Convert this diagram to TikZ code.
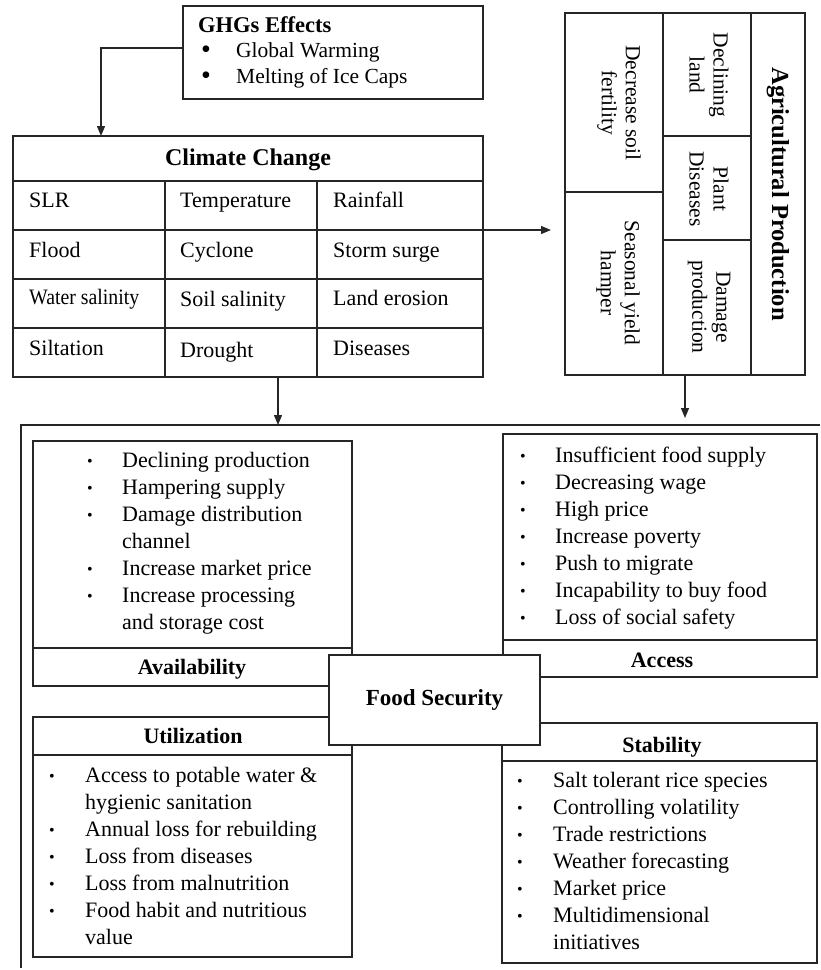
\documentclass[tikz,border=0pt]{standalone}
\usepackage{fontspec}
\setmainfont{Liberation Serif}
\usetikzlibrary{arrows.meta}
\newcommand\bodyfont{\fontsize{22}{27}\selectfont}
\newcommand\sbul{{\fontsize{16}{16}\selectfont\raisebox{0.5pt}{\textbullet}}}
\newcommand\bbul{{\fontsize{28}{28}\selectfont\raisebox{-1pt}{\textbullet}}}
\newcommand\itm[2]{\llap{\makebox[#1][l]{#2}}}
\tikzset{
  box/.style={draw=black!85, line width=1.3pt, inner sep=0pt, outer sep=0pt},
  ln/.style={draw=black!85, line width=1.3pt},
  conn/.style={draw=black!85, line width=1.3pt, -{Triangle[length=10pt,width=8pt]}},
  txt/.style={inner sep=0pt, font=\bodyfont, anchor=base west},
  hdr/.style={inner sep=0pt, font=\bodyfont\bfseries, anchor=base},
  vtxt/.style={inner sep=0pt, font=\fontsize{21.5}{24}\selectfont, rotate=-90, align=center},
}
\begin{document}
\begin{tikzpicture}[x=1pt,y=-1pt]
\useasboundingbox (0,0) rectangle (820,970);

% ---------- GHGs ----------
\node[box, minimum width=300pt, minimum height=93pt] (ghg) at (333,52.5) {};
\node[inner sep=0pt, font=\fontsize{22.5}{27}\selectfont\bfseries, anchor=base west] (ghgt) at (198,32) {GHGs Effects};
\node[txt, font=\fontsize{21.5}{24}\selectfont] (ghg1) at (236,57) {\itm{35pt}{\bbul}Global Warming};
\node[txt, font=\fontsize{21.5}{24}\selectfont] (ghg2) at (236,83) {\itm{35pt}{\bbul}Melting of Ice Caps};

% ---------- Climate change ----------
\node[box, minimum width=470pt, minimum height=45pt] (cc) at (248,158.5) {};
\node[hdr, font=\fontsize{24}{27}\selectfont\bfseries] (cct) at (248,165) {Climate Change};
\node[box, minimum width=470pt, minimum height=196pt] (grid) at (248,279) {};
\draw[ln] (13,230) -- (483,230) (13,279) -- (483,279) (13,328) -- (483,328)
          (165,181) -- (165,377) (317,181) -- (317,377);
\node[txt] (c11) at (29,207) {SLR};
\node[txt] (c12) at (180,207) {Temperature};
\node[txt] (c13) at (333,207) {Rainfall};
\node[txt] (c21) at (29,257) {Flood};
\node[txt] (c22) at (180,257) {Cyclone};
\node[txt] (c23) at (333,257) {Storm surge};
\node[txt] (c31) at (29,304) {\scalebox{0.9}[1]{Water salinity}};
\node[txt] (c32) at (180,306) {Soil salinity};
\node[txt] (c33) at (333,305) {Land erosion};
\node[txt] (c41) at (29,355) {Siltation};
\node[txt] (c42) at (180,357) {Drought};
\node[txt] (c43) at (333,355) {Diseases};

\draw[conn] ([yshift=4.5pt]ghg.west) -| ([xshift=88pt]cc.north west);

% ---------- Agricultural production ----------
\node[box, minimum width=240pt, minimum height=362pt] (agri) at (685,194) {};
\draw[ln] (663,13) -- (663,375) (565,192) -- (663,192)
          (663,136) -- (751,136) (663,240) -- (751,240);
\draw[draw=black!85, line width=2.2pt] (751,13) -- (751,375);
\node[vtxt, font=\fontsize{24.5}{27}\selectfont\bfseries] (agt) at (778,194) {Agricultural Production};
\node[vtxt] (ag1) at (709,75) {Declining\\land};
\node[vtxt] (ag2) at (709,189) {Plant\\Diseases};
\node[vtxt] (ag3) at (709,307) {Damage\\production};
\node[vtxt] (ag4) at (619,103) {Decrease soil\\fertility};
\node[vtxt] (ag5) at (618,283) {Seasonal yield\\hamper};

\draw[conn, shorten >=14pt] ([yshift=49pt]grid.east) -- ([yshift=49pt]grid.east -| agri.west);

% ---------- Food security frame ----------
\node[inner sep=0pt, outer sep=0pt, minimum width=799pt, minimum height=543pt] (frame) at (420.5,696.5) {};
\draw[ln] (frame.south west) -- (frame.north west) -- (frame.north east);

\draw[conn] ([xshift=30pt]grid.south) -- ([xshift=30pt]grid.south |- frame.north);
\draw[conn, shorten >=7pt] (agri.south) -- (agri.south |- frame.north);

% Availability
\node[box, minimum width=319pt, minimum height=245pt] (avbox) at (192.5,563.5) {};
\draw[ln] (33,648) -- (352,648);
\node[hdr] (avh) at (192,674) {Availability};
\foreach \f/\t [count=\i] in {1/Declining production, 1/Hampering supply, 1/Damage distribution,
  0/channel, 1/Increase market price, 1/Increase processing, 0/and storage cost}{
  \node[txt] (av\i) at (122,{440+27*\i}) {\ifnum\f=1 \itm{35pt}{\sbul}\fi\t};
}

% Access
\node[box, minimum width=314pt, minimum height=243pt] (acbox) at (660,555.5) {};
\draw[ln] (503,640) -- (817,640);
\node[hdr] (ach) at (662,667) {Access};
\foreach \t [count=\i] in {Insufficient food supply, Decreasing wage, High price, Increase poverty,
  Push to migrate, Incapability to buy food, Loss of social safety}{
  \node[txt] (ac\i) at (555,{435+27*\i}) {\itm{35pt}{\sbul}\t};
}

% Utilization
\node[box, minimum width=319pt, minimum height=240pt] (utbox) at (192.5,837) {};
\draw[ln] (33,755) -- (352,755);
\node[hdr] (uth) at (193,743) {Utilization};
\foreach \f/\t [count=\i] in {1/Access to potable water \&, 0/hygienic sanitation, 1/Annual loss for rebuilding,
  1/Loss from diseases, 1/Loss from malnutrition, 1/Food habit and nutritious, 0/value}{
  \node[txt] (ut\i) at (85,{755+27*\i}) {\ifnum\f=1 \itm{36pt}{\sbul}\fi\t};
}

% Stability
\node[box, minimum width=315pt, minimum height=240pt] (stbox) at (659.5,843) {};
\draw[ln] (502,761) -- (817,761);
\node[hdr] (sth) at (662,752) {Stability};
\foreach \f/\t [count=\i] in {1/Salt tolerant rice species, 1/Controlling volatility, 1/Trade restrictions,
  1/Weather forecasting, 1/Market price, 1/Multidimensional, 0/initiatives}{
  \node[txt] (st\i) at (553,{760+27*\i}) {\ifnum\f=1 \itm{36pt}{\sbul}\fi\t};
}

% Food Security centre box
\node[box, fill=white, minimum width=211pt, minimum height=90pt, font=\fontsize{23}{27}\selectfont\bfseries] (fs) at (434.5,700) {Food Security};

\end{tikzpicture}
\end{document}
